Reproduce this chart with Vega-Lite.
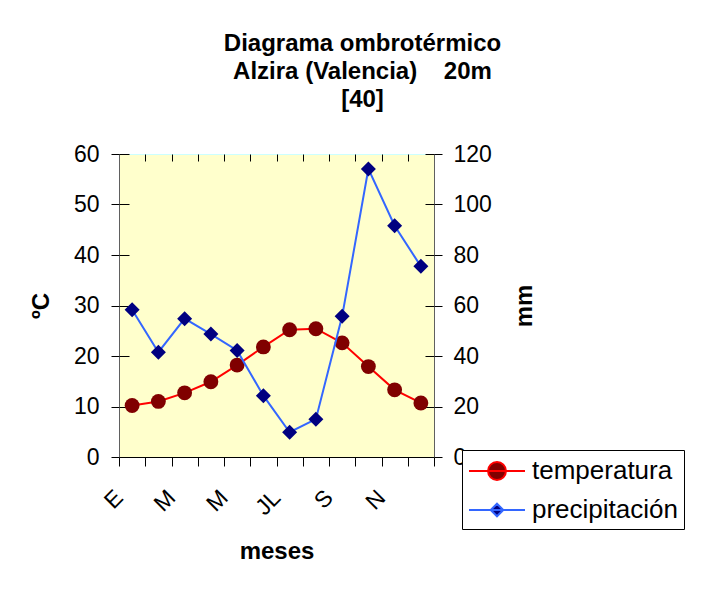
{
  "$schema": "https://vega.github.io/schema/vega-lite/v6.json",
  "width": 315,
  "height": 303,
  "autosize": {"type": "none"},
  "padding": {"left": 119, "top": 154, "right": 269, "bottom": 137},
  "background": "white",
  "config": {
    "view": {"stroke": "#CCFFFF", "fill": "#FFFFCC"},
    "font": "Liberation Sans"
  },
  "title": {
    "text": ["Diagrama ombrotérmico", "Alzira (Valencia)\u00a0\u00a0\u00a0\u00a020m", "[40]"],
    "fontSize": 24,
    "font": "Liberation Sans",
    "fontWeight": "bold",
    "color": "black",
    "lineHeight": 28,
    "anchor": "middle",
    "dx": 86,
    "offset": 31
  },
  "data": {
    "values": [
      {"m": 1, "temp": 10.2, "precip": 58.3},
      {"m": 2, "temp": 11.0, "precip": 41.5},
      {"m": 3, "temp": 12.7, "precip": 54.8},
      {"m": 4, "temp": 14.9, "precip": 48.7},
      {"m": 5, "temp": 18.2, "precip": 42.2},
      {"m": 6, "temp": 21.8, "precip": 24.3},
      {"m": 7, "temp": 25.2, "precip": 9.8},
      {"m": 8, "temp": 25.4, "precip": 15.0},
      {"m": 9, "temp": 22.6, "precip": 55.7},
      {"m": 10, "temp": 17.9, "precip": 114.1},
      {"m": 11, "temp": 13.3, "precip": 91.6},
      {"m": 12, "temp": 10.7, "precip": 75.5}
    ]
  },
  "layer": [
    {
      "mark": {"type": "line", "strokeWidth": 2},
      "encoding": {
        "x": {
          "field": "m", "type": "ordinal", "bandPosition": 0.5,
          "scale": {"type": "band", "paddingInner": 0, "paddingOuter": 0},
          "axis": {
            "title": "meses", "titleFontSize": 24, "titleFontWeight": "bold", "titleColor": "black", "titlePadding": 20,
            "labelExpr": "datum.value == 1 ? 'E' : datum.value == 3 ? 'M' : datum.value == 5 ? 'M' : datum.value == 7 ? 'JL' : datum.value == 9 ? 'S' : datum.value == 11 ? 'N' : ''",
            "labelAngle": -45, "labelFontSize": 23, "labelColor": "black", "labelPadding": 20, "labelOffset": -21,
            "labelOverlap": false, "labelBound": false,
            "tickBand": "extent", "tickSize": 9, "tickColor": "black", "domainColor": "black", "grid": false
          }
        },
        "y": {
          "field": "temp", "type": "quantitative",
          "scale": {"domain": [0, 60]},
          "axis": {
            "orient": "left", "values": [0, 10, 20, 30, 40, 50, 60],
            "title": "ºC", "titleFontSize": 24, "titleFontWeight": "bold", "titleColor": "black", "titlePadding": 20,
            "labelFontSize": 23, "labelColor": "black", "labelPadding": 12,
            "tickSize": 8, "tickColor": "black", "domainColor": "#606060", "grid": false
          }
        },
        "color": {
          "datum": "temperatura",
          "scale": {"domain": ["temperatura", "precipitación"], "range": ["#FF0000", "#3366FF"]},
          "legend": {
            "orient": "none", "legendX": 343, "legendY": 296, "title": null,
            "fillColor": "white", "strokeColor": "black", "padding": 6,
            "symbolSize": 784, "symbolStrokeWidth": 2, "symbolOffset": 14,
            "labelOffset": 20, "labelFontSize": 26, "labelColor": "black", "rowPadding": 11,
            "encode": {
              "symbols": {
                "update": {
                  "shape": {"signal": "datum.value === 'temperatura' ? 'M-2,0H2M-0.64,0A0.64,0.64 0 1,1 0.64,0A0.64,0.64 0 1,1 -0.64,0Z' : 'M-2,0H2M0,-0.45L0.45,0L0,0.45L-0.45,0Z'"},
                  "fill": {"signal": "datum.value === 'temperatura' ? '#800000' : '#000080'"},
                  "stroke": {"signal": "datum.value === 'temperatura' ? '#FF0000' : '#3366FF'"},
                  "strokeWidth": {"value": 2},
                  "opacity": {"value": 1}
                }
              }
            }
          }
        }
      }
    },
    {
      "mark": {"type": "point", "shape": "circle", "filled": true, "color": "#800000", "size": 220, "opacity": 1},
      "encoding": {
        "x": {
          "field": "m", "type": "ordinal", "bandPosition": 0.5,
          "scale": {"type": "band", "paddingInner": 0, "paddingOuter": 0},
          "axis": {"title": null, "labels": false, "domain": false, "tickBand": "extent", "tickSize": 7, "offset": -7, "tickColor": "black", "grid": false}
        },
        "y": {
          "field": "temp", "type": "quantitative",
          "scale": {"domain": [0, 60]},
          "axis": {"orient": "left", "values": [0, 10, 20, 30, 40, 50, 60], "title": null, "labels": false, "domain": false, "tickSize": 10, "offset": -10, "tickColor": "black", "grid": false}
        }
      }
    },
    {
      "mark": {"type": "line", "strokeWidth": 2},
      "encoding": {
        "x": {
          "field": "m", "type": "ordinal", "bandPosition": 0.5,
          "scale": {"type": "band", "paddingInner": 0, "paddingOuter": 0},
          "axis": null
        },
        "y": {
          "field": "precip", "type": "quantitative",
          "scale": {"domain": [0, 120]},
          "axis": {
            "orient": "right", "values": [0, 20, 40, 60, 80, 100, 120],
            "title": "mm", "titleAngle": 270, "titleFontSize": 24, "titleFontWeight": "bold", "titleColor": "black", "titlePadding": 45,
            "labelFontSize": 23, "labelColor": "black", "labelPadding": 11,
            "tickSize": 8, "tickColor": "black", "domainColor": "#606060", "grid": false
          }
        },
        "color": {"datum": "precipitación"}
      }
    },
    {
      "mark": {"type": "point", "shape": "diamond", "filled": true, "color": "#000080", "size": 225, "opacity": 1},
      "encoding": {
        "x": {
          "field": "m", "type": "ordinal", "bandPosition": 0.5,
          "scale": {"type": "band", "paddingInner": 0, "paddingOuter": 0},
          "axis": null
        },
        "y": {
          "field": "precip", "type": "quantitative",
          "scale": {"domain": [0, 120]},
          "axis": {"orient": "right", "values": [0, 20, 40, 60, 80, 100, 120], "title": null, "labels": false, "domain": false, "tickSize": 9, "offset": -9, "tickColor": "black", "grid": false}
        }
      }
    }
  ],
  "resolve": {"scale": {"x": "independent", "y": "independent"}}
}
